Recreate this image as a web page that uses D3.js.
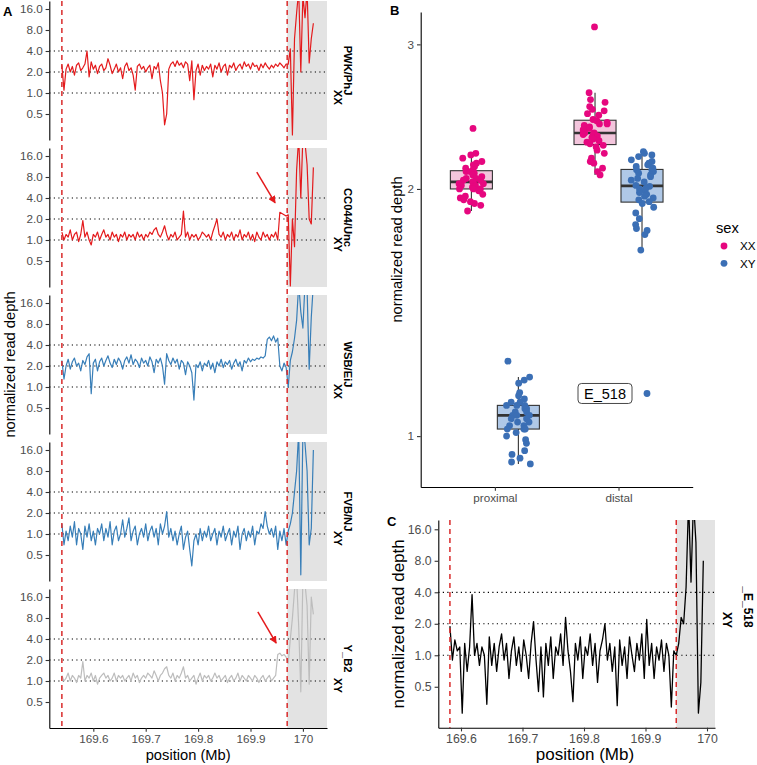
<!DOCTYPE html>
<html><head><meta charset="utf-8">
<script src="https://cdn.jsdelivr.net/npm/d3@7"></script>
<style>body{margin:0;background:#fff} svg{display:block}</style>
</head><body><svg id="chart" width="757" height="765"></svg>
<script>
// ================= DATA =================
// Panel A : normalized read depth in consecutive windows
const strains = ["PWK/PhJ", "CC044/Unc", "WSB/EiJ", "FVB/NJ", "Y_B2"];
const strainSex = ["XX", "XY", "XX", "XY", "XY"];
const windowStartA = 169.540, windowSizeA = 0.004;   // Mb
const boundariesA = [169.540, 169.970];               // Mb
const depthPWK = [
2.5,1.1,2.2,2.6,2.0,2.4,1.8,2.5,2.7,2.1,
2.3,2.6,4.0,1.7,2.8,2.2,2.5,1.9,2.4,2.6,
2.1,2.3,3.1,2.5,1.9,2.2,2.6,2.0,2.3,1.6,
2.4,2.7,2.1,2.3,1.8,1.1,2.4,2.6,2.2,2.4,
2.0,2.3,2.5,1.6,2.4,2.2,2.7,1.5,1.0,0.35,
0.5,2.2,2.6,2.8,2.4,2.9,2.5,2.7,2.3,2.8,
2.6,1.5,2.9,0.8,2.1,2.6,1.8,2.5,2.1,2.4,
2.2,2.6,1.7,2.5,2.2,2.7,2.0,2.4,2.6,1.8,
2.5,2.3,2.7,2.1,2.4,2.6,2.2,2.8,2.4,2.6,
2.2,2.7,2.4,2.5,2.1,2.6,2.3,2.7,2.4,2.2,
2.5,2.3,2.6,2.4,2.7,2.5,2.3,2.6,
2.6,4.3,0.25,6,14,30,2.0,25,12,30,2.7,6,10];
const depthCC044 = [
1.3,1.0,1.2,1.1,1.4,1.0,1.2,1.3,0.95,1.2,
1.9,1.1,1.3,1.0,0.85,1.2,1.1,1.3,1.0,1.2,
1.4,1.1,1.2,1.0,1.3,1.1,1.2,0.95,1.2,1.1,
1.3,1.0,1.2,1.1,1.2,1.0,1.3,1.1,1.2,1.0,
1.2,1.1,1.3,1.2,1.4,1.5,1.2,1.1,1.3,1.6,
1.2,1.0,1.2,1.1,1.3,1.0,1.1,1.2,2.6,1.1,
1.3,1.0,1.2,1.1,1.2,1.0,1.1,1.3,1.2,1.1,
1.2,1.0,1.3,1.6,2.0,1.2,1.1,1.3,1.0,1.2,
1.1,1.3,1.0,1.2,1.1,1.4,1.0,1.2,1.1,1.3,
1.0,1.2,0.95,1.3,1.1,1.0,1.3,1.1,1.2,1.0,
1.2,1.1,1.3,1.0,2.5,2.4,2.3,2.2,
2.3,0.22,2.0,0.8,10,30,4,30,25,12,2.0,1.7,11];
const depthWSB = [
2.4,1.3,2.0,2.5,1.8,2.3,2.6,2.0,2.2,1.7,
2.4,2.1,2.7,3.0,0.8,2.2,2.5,1.7,2.3,2.6,
2.0,2.4,2.8,2.2,1.9,2.5,2.1,2.6,2.3,1.8,
2.4,2.7,2.2,2.9,2.1,2.5,2.3,1.9,2.6,2.2,
2.4,2.0,2.7,2.3,1.6,2.5,2.2,2.6,2.0,1.1,
3.0,2.4,2.1,2.6,2.2,2.5,1.8,2.4,2.2,1.5,
2.3,2.0,1.6,0.65,2.1,1.9,2.3,1.7,2.2,2.0,
2.4,1.8,2.2,1.6,2.3,2.0,2.5,1.9,2.3,2.1,
2.4,1.8,2.2,2.5,2.0,2.3,1.7,2.4,2.2,2.6,
2.3,2.5,2.4,2.6,2.5,2.7,2.6,2.8,4.8,5.2,
4.6,5.4,4.4,5.0,2.0,1.7,2.2,1.9,
1.0,2.4,3.2,5,9,30,12,7,30,25,1.8,10,30];
const depthFVB = [
1.4,0.7,1.1,0.8,1.3,0.9,1.5,0.7,1.2,1.0,
0.6,1.3,0.9,1.4,0.8,1.1,0.7,1.2,1.0,1.4,
0.8,1.2,0.9,1.5,0.7,1.1,1.3,0.8,1.0,1.6,
0.9,1.2,1.7,0.8,1.1,1.3,0.7,1.0,1.2,0.9,
1.4,0.8,1.1,1.3,0.9,1.2,0.7,1.4,1.0,1.3,
2.1,0.9,1.2,0.8,1.1,0.7,1.0,1.3,0.6,0.9,
1.1,0.6,0.35,0.8,1.0,0.7,1.2,0.8,1.1,0.9,
1.3,0.8,1.0,1.2,0.7,1.1,0.9,1.3,0.8,1.0,
1.2,0.7,1.1,0.9,1.3,0.6,1.0,1.2,0.8,1.1,
0.9,1.3,0.7,1.1,1.0,1.4,1.2,2.1,1.3,1.0,
1.2,0.9,1.3,0.6,1.1,0.8,1.2,0.7,
1.1,1.4,2.0,4,8,30,0.26,30,20,8,0.7,1.2,16];
const depthYB2 = [
1.2,1.0,1.1,1.3,1.0,1.2,1.1,0.95,1.2,1.1,
1.9,1.0,1.2,1.1,1.3,1.0,1.2,0.9,1.1,1.2,
1.3,1.1,1.2,1.0,1.1,1.3,1.0,1.2,1.1,1.2,
1.0,1.1,1.2,1.0,1.3,1.1,1.2,0.95,1.1,1.2,
1.1,1.3,1.2,1.1,1.4,1.2,1.0,1.2,1.3,1.5,
1.6,1.2,1.1,1.3,1.0,1.2,1.1,1.3,1.6,1.1,
1.2,1.0,1.1,1.2,0.9,1.1,1.3,1.0,1.2,1.1,
1.2,1.0,1.1,1.3,1.1,1.2,1.0,1.1,1.2,0.95,
1.1,1.2,1.0,1.1,1.3,1.0,1.2,1.1,1.0,1.2,
1.1,1.0,1.2,1.1,0.95,1.1,1.2,1.0,1.1,1.2,
1.0,1.1,1.2,2.4,2.5,2.3,2.4,2.2,
1.8,4,8,20,30,6,0.7,30,25,12,0.9,16,9];
// arrows in panel A (strain index, from -> to in data units)
const arrowsA = [
  {strain: 1, x1: 169.912, y1: 9.4, x2: 169.947, y2: 3.4},
  {strain: 4, x1: 169.914, y1: 9.8, x2: 169.949, y2: 3.5}
];

// Panel C : sample E_518
const sampleC = "_E_518", sexC = "XY";
const windowStartC = 169.582, windowSizeC = 0.004;
const boundariesC = [169.582, 169.950];
const depthE518 = [
1.9,0.9,1.4,1.1,1.2,0.28,1.3,0.7,1.2,3.8,
1.0,1.3,0.8,1.2,1.0,0.34,1.5,0.8,1.3,0.7,
1.2,1.6,0.9,1.3,0.6,1.1,1.5,0.8,1.2,0.7,
1.4,1.0,0.6,1.3,2.1,0.9,0.45,1.2,0.4,1.3,
0.8,1.5,0.6,1.2,1.0,1.6,0.8,2.3,1.1,0.7,
0.36,1.3,0.9,1.5,0.6,1.2,1.0,1.6,0.8,1.3,
0.55,1.1,1.4,2.0,0.9,1.3,0.7,1.2,0.33,1.4,
0.8,1.2,0.6,1.5,1.0,0.7,1.3,0.9,1.6,0.6,
2.2,0.8,1.3,0.6,1.2,0.9,1.4,0.7,1.3,1.0,
0.32,1.1,
1.0,1.3,2.3,2.0,4.5,30,5,30,12,0.28,0.55,8];

const depthTicks = [0.5, 1, 2, 4, 8, 16];
const refLevels = [1, 2, 4];
const positionTicks = [169.6, 169.7, 169.8, 169.9, 170];

// Panel B : per-sample normalized depth by region and sex
const regions = ["proximal", "distal"];
const sexes = ["XX", "XY"];
const proximalXX = [2.37,2.21,2.20,2.18,2.16,2.15,2.14,2.13,2.12,2.11,2.10,2.10,2.09,2.08,2.07,2.06,2.06,2.05,2.05,2.04,2.04,2.03,2.03,2.02,2.02,2.01,2.01,2.00,2.00,2.00,1.99,1.97,1.96,1.95,1.94,1.93,1.92,1.91,1.88];
const distalXX = [3.15,2.62,2.57,2.55,2.52,2.50,2.49,2.47,2.46,2.43,2.42,2.41,2.40,2.40,2.39,2.38,2.37,2.36,2.35,2.34,2.34,2.33,2.33,2.32,2.31,2.30,2.29,2.28,2.27,2.26,2.25,2.23,2.21,2.18,2.16,2.15,2.12,2.10,2.08];
const proximalXY = [1.234,1.18,1.17,1.16,1.13,1.12,1.11,1.10,1.10,1.09,1.09,1.09,1.08,1.08,1.07,1.07,1.06,1.06,1.06,1.05,1.05,1.04,1.04,1.03,1.03,1.02,1.02,1.02,1.01,1.00,0.99,0.98,0.96,0.95,0.94,0.93,0.925];
const distalXY = [2.22,2.21,2.20,2.19,2.17,2.16,2.15,2.14,2.13,2.12,2.11,2.11,2.10,2.09,2.08,2.07,2.06,2.05,2.04,2.02,2.015,2.005,2.00,1.99,1.98,1.97,1.96,1.95,1.94,1.93,1.92,1.90,1.87,1.84,1.81,1.79,1.78,1.76,1.685,1.127];
const depthTicksB = [1, 2, 3];
const labelledSample = {region: "distal", sex: "XY", value: 1.127, label: "E_518"};

// ================= DRAWING =================
const FONT = "'Liberation Sans', Arial, Helvetica, sans-serif";
const svg = d3.select("#chart").attr("font-family", FONT);
const RED = "#e41a1c", BLUE = "#377eb8", GREY = "#bdbdbd";
const lineColors = [RED, RED, BLUE, BLUE, GREY];
const SHADE = "#e3e3e3";
const TICKTXT = "#4d4d4d";

const defs = svg.append("defs");
defs.append("marker").attr("id", "arrowRed").attr("viewBox", "0 0 10 10")
  .attr("refX", 9).attr("refY", 5).attr("markerWidth", 5).attr("markerHeight", 5)
  .attr("orient", "auto")
  .append("path").attr("d", "M0,0 L10,5 L0,10 z").attr("fill", RED);

function styleAxis(g, fs) {
  g.attr("font-family", FONT).attr("font-size", null);
  g.select(".domain").attr("stroke", "#000").attr("stroke-width", 1.1);
  g.selectAll(".tick line").attr("stroke", "#333").attr("stroke-width", 1.1);
  g.selectAll(".tick text").attr("fill", TICKTXT).style("font-size", (fs || 11.7) + "px");
}

// ---------- Panel A ----------
const A = {left: 49.3, right: 327, h: 139, tops: [1, 148, 295, 442, 589]};
const xA = d3.scaleLinear().domain([169.516, 170.046]).range([A.left, A.right]);
const yA = d3.scaleLog().base(2).domain([Math.pow(2, -2.238), Math.pow(2, 4.381)]).range([A.h, 0]);
const seriesA = [depthPWK, depthCC044, depthWSB, depthFVB, depthYB2];

seriesA.forEach((vals, k) => {
  const g = svg.append("g").attr("transform", `translate(0,${A.tops[k]})`);
  const cid = "clipA" + k;
  defs.append("clipPath").attr("id", cid).append("rect")
    .attr("x", A.left).attr("y", 0).attr("width", A.right - A.left).attr("height", A.h);
  g.append("rect").attr("x", xA(boundariesA[1])).attr("y", 0)
    .attr("width", A.right - xA(boundariesA[1])).attr("height", A.h).attr("fill", SHADE);
  g.selectAll("line.ref").data(refLevels).join("line").attr("class", "ref")
    .attr("x1", A.left).attr("x2", A.right).attr("y1", d => yA(d)).attr("y2", d => yA(d))
    .attr("stroke", "#000").attr("stroke-width", 1.2).attr("stroke-dasharray", "1.2,3.3");
  const line = d3.line().x((d, i) => xA(windowStartA + i * windowSizeA)).y(d => yA(d));
  g.append("g").attr("clip-path", `url(#${cid})`).append("path").datum(vals)
    .attr("d", line).attr("fill", "none").attr("stroke", lineColors[k])
    .attr("stroke-width", 1.2).attr("stroke-linejoin", "round");
  const ax = g.append("g").attr("transform", `translate(${A.left},0)`)
    .call(d3.axisLeft(yA).tickValues(depthTicks).tickFormat(d3.format(".1f")).tickSize(3.7).tickSizeOuter(0).tickPadding(2.9));
  styleAxis(ax);
  const cy = A.h / 2;
  g.append("text").attr("transform", `translate(337.5,${cy + 27}) rotate(90)`).attr("text-anchor", "middle")
    .attr("dy", "0.35em").attr("font-weight", "bold").attr("font-size", 11.2).text(strainSex[k]);
  g.append("text").attr("transform", `translate(347.5,${cy}) rotate(90)`).attr("text-anchor", "middle")
    .attr("dy", "0.35em").attr("font-weight", "bold").attr("font-size", 11.2).text(strains[k]);
  arrowsA.filter(a => a.strain === k).forEach(a => {
    g.append("line").attr("x1", xA(a.x1)).attr("y1", yA(a.y1)).attr("x2", xA(a.x2)).attr("y2", yA(a.y2))
      .attr("stroke", RED).attr("stroke-width", 1.5).attr("marker-end", "url(#arrowRed)");
  });
});
// boundary lines for panel A
svg.selectAll("line.bndA").data(boundariesA).join("line").attr("class", "bndA")
  .attr("x1", d => xA(d)).attr("x2", d => xA(d)).attr("y1", A.tops[0]).attr("y2", A.tops[4] + A.h)
  .attr("stroke", "#d92b2b").attr("stroke-width", 1.5).attr("stroke-dasharray", "5,4");
const axAx = svg.append("g").attr("transform", `translate(0,${A.tops[4] + A.h})`)
  .call(d3.axisBottom(xA).tickValues(positionTicks).tickFormat(d => String(+d.toFixed(1))).tickSize(3.7).tickSizeOuter(0).tickPadding(2.9));
styleAxis(axAx);
svg.append("text").attr("x", (A.left + A.right) / 2).attr("y", 760).attr("text-anchor", "middle")
  .attr("font-size", 14.7).text("position (Mb)");
svg.append("text").attr("transform", `translate(15,${(A.tops[0] + A.tops[4] + A.h) / 2}) rotate(-90)`)
  .attr("text-anchor", "middle").attr("font-size", 14.7).text("normalized read depth");
svg.append("text").attr("x", 3).attr("y", 15.5).attr("font-weight", "bold").attr("font-size", 13).text("A");

// ---------- Panel B ----------
const B = {left: 420.7, right: 692.7, top: 12, bottom: 487};
const xB = d3.scaleLinear().domain([0.4, 2.6]).range([B.left, B.right]);
const yB = d3.scaleLog().domain([0.867, 3.285]).range([B.bottom, B.top]);
const groupsB = [
  {region: "proximal", sex: "XX", values: proximalXX},
  {region: "proximal", sex: "XY", values: proximalXY},
  {region: "distal", sex: "XX", values: distalXX},
  {region: "distal", sex: "XY", values: distalXY}
];
const sexPoint = {XX: "#e6077f", XY: "#3b6fb5"};
const sexFill = {XX: "#f3c5dc", XY: "#afc8e7"};
const dodge = {XX: -0.19, XY: 0.19};
const boxHalf = 0.17;
const cx = g => xB(regions.indexOf(g.region) + 1 + dodge[g.sex]);

groupsB.forEach(gr => {
  const s = gr.values.slice().sort(d3.ascending);
  const q1 = d3.quantile(s, 0.25), med = d3.quantile(s, 0.5), q3 = d3.quantile(s, 0.75);
  const iqr = q3 - q1;
  const lo = d3.min(s.filter(v => v >= q1 - 1.5 * iqr)), hi = d3.max(s.filter(v => v <= q3 + 1.5 * iqr));
  const c = cx(gr), w = xB(1 + boxHalf) - xB(1);
  const g = svg.append("g");
  g.append("line").attr("x1", c).attr("x2", c).attr("y1", yB(hi)).attr("y2", yB(q3)).attr("stroke", "#333").attr("stroke-width", 1.1);
  g.append("line").attr("x1", c).attr("x2", c).attr("y1", yB(q1)).attr("y2", yB(lo)).attr("stroke", "#333").attr("stroke-width", 1.1);
  g.append("rect").attr("x", c - w).attr("width", 2 * w).attr("y", yB(q3)).attr("height", yB(q1) - yB(q3))
    .attr("fill", sexFill[gr.sex]).attr("stroke", "#333").attr("stroke-width", 1.1);
  g.append("line").attr("x1", c - w).attr("x2", c + w).attr("y1", yB(med)).attr("y2", yB(med)).attr("stroke", "#333").attr("stroke-width", 2.6);
});
const jit = d3.randomUniform.source(d3.randomLcg(0.3172))(-0.1, 0.1);
groupsB.forEach(gr => {
  svg.append("g").selectAll("circle").data(gr.values).join("circle")
    .attr("cx", d => {
      if (gr.region === labelledSample.region && gr.sex === labelledSample.sex && d === labelledSample.value) return cx(gr) + 5;
      return cx(gr) + (xB(1 + jit()) - xB(1));
    })
    .attr("cy", d => yB(d)).attr("r", 3.4).attr("fill", sexPoint[gr.sex]);
});
// label for the highlighted sample
{
  const gl = {region: labelledSample.region, sex: labelledSample.sex};
  const lx = cx(gl) - 37, ly = yB(labelledSample.value);
  const gLab = svg.append("g");
  gLab.append("rect").attr("x", lx - 27).attr("y", ly - 10).attr("width", 54).attr("height", 20).attr("rx", 3.5)
    .attr("fill", "#fff").attr("stroke", "#333").attr("stroke-width", 0.9);
  gLab.append("text").attr("x", lx).attr("y", ly).attr("dy", "0.36em").attr("text-anchor", "middle")
    .attr("font-size", 14.5).text(labelledSample.label);
}
const axBy = svg.append("g").attr("transform", `translate(${B.left},0)`)
  .call(d3.axisLeft(yB).tickValues(depthTicksB).tickFormat(d3.format("d")).tickSize(3.7).tickSizeOuter(0).tickPadding(2.9));
styleAxis(axBy);
const axBx = svg.append("g").attr("transform", `translate(0,${B.bottom})`)
  .call(d3.axisBottom(xB).tickValues([1, 2]).tickFormat(d => regions[d - 1]).tickSize(3.7).tickSizeOuter(0).tickPadding(2.9));
styleAxis(axBx);
svg.append("text").attr("transform", `translate(402,${(B.top + B.bottom) / 2}) rotate(-90)`)
  .attr("text-anchor", "middle").attr("font-size", 14.7).text("normalized read depth");
svg.append("text").attr("x", 390).attr("y", 14.5).attr("font-weight", "bold").attr("font-size", 13).text("B");
// legend
const lg = svg.append("g");
lg.append("text").attr("x", 716).attr("y", 233).attr("font-size", 14.7).text("sex");
sexes.forEach((s, i) => {
  lg.append("circle").attr("cx", 724).attr("cy", 246 + i * 17.3).attr("r", 3.4).attr("fill", sexPoint[s]);
  lg.append("text").attr("x", 740).attr("y", 246 + i * 17.3).attr("dy", "0.36em").attr("font-size", 11.7).text(s);
});

// ---------- Panel C ----------
const C = {left: 438.3, right: 715, top: 520, bottom: 727.7};
const xC = d3.scaleLinear().domain([169.5631, 170.013]).range([C.left, C.right]);
const yC = d3.scaleLog().base(2).domain([Math.pow(2, -2.30), Math.pow(2, 4.295)]).range([C.bottom, C.top]);
defs.append("clipPath").attr("id", "clipC").append("rect")
  .attr("x", C.left).attr("y", C.top).attr("width", C.right - C.left).attr("height", C.bottom - C.top);
svg.append("rect").attr("x", xC(boundariesC[1])).attr("y", C.top).attr("width", C.right - xC(boundariesC[1]))
  .attr("height", C.bottom - C.top).attr("fill", SHADE);
svg.selectAll("line.refC").data(refLevels).join("line").attr("class", "refC")
  .attr("x1", C.left).attr("x2", C.right).attr("y1", d => yC(d)).attr("y2", d => yC(d))
  .attr("stroke", "#000").attr("stroke-width", 1.2).attr("stroke-dasharray", "1.2,3.3");
svg.append("g").attr("clip-path", "url(#clipC)").append("path").datum(depthE518)
  .attr("d", d3.line().x((d, i) => xC(windowStartC + i * windowSizeC)).y(d => yC(d)))
  .attr("fill", "none").attr("stroke", "#000").attr("stroke-width", 1.3).attr("stroke-linejoin", "round");
svg.selectAll("line.bndC").data(boundariesC).join("line").attr("class", "bndC")
  .attr("x1", d => xC(d)).attr("x2", d => xC(d)).attr("y1", C.top).attr("y2", C.bottom)
  .attr("stroke", "#d92b2b").attr("stroke-width", 1.5).attr("stroke-dasharray", "5,4");
const axCy = svg.append("g").attr("transform", `translate(${C.left},0)`)
  .call(d3.axisLeft(yC).tickValues(depthTicks).tickFormat(d3.format(".1f")).tickSize(3.7).tickSizeOuter(0).tickPadding(2.9));
styleAxis(axCy, 12.3);
const axCx = svg.append("g").attr("transform", `translate(0,${C.bottom})`)
  .call(d3.axisBottom(xC).tickValues(positionTicks).tickFormat(d => String(+d.toFixed(1))).tickSize(3.7).tickSizeOuter(0).tickPadding(2.9));
styleAxis(axCx, 12.3);
svg.append("text").attr("x", 585).attr("y", 760).attr("text-anchor", "middle")
  .attr("font-size", 17).text("position (Mb)");
svg.append("text").attr("transform", `translate(403.5,${(C.top + C.bottom) / 2}) rotate(-90)`)
  .attr("text-anchor", "middle").attr("font-size", 17).text("normalized read depth");
svg.append("text").attr("transform", `translate(727,620) rotate(90)`).attr("text-anchor", "middle")
  .attr("dy", "0.35em").attr("font-weight", "bold").attr("font-size", 12).text(sexC);
svg.append("text").attr("transform", `translate(748,607) rotate(90)`).attr("text-anchor", "middle")
  .attr("dy", "0.35em").attr("font-weight", "bold").attr("font-size", 12).text(sampleC);
svg.append("text").attr("x", 387).attr("y", 526).attr("font-weight", "bold").attr("font-size", 13).text("C");
</script></body></html>
